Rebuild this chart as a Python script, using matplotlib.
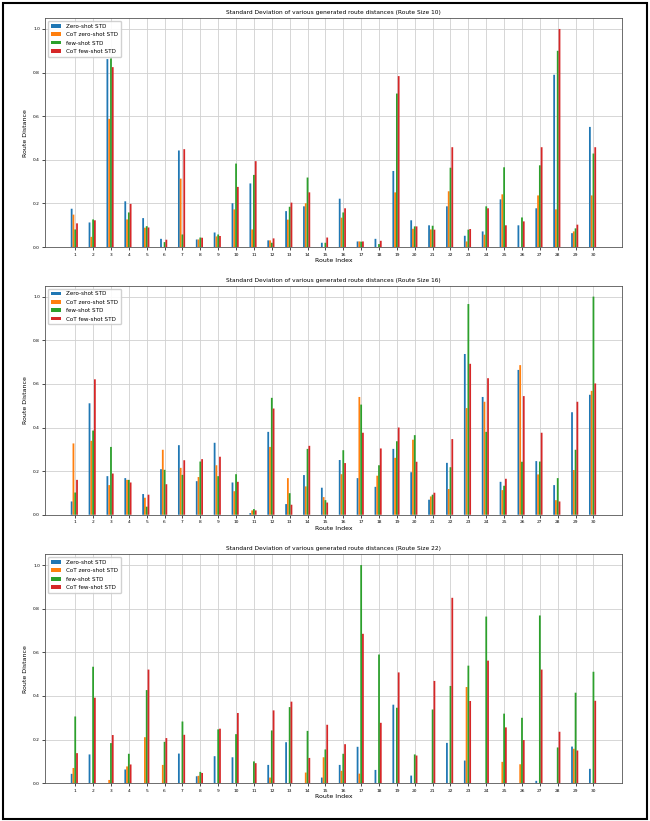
import numpy as np
import matplotlib
matplotlib.use("Agg")
import matplotlib.pyplot as plt
from matplotlib.patches import Rectangle

routes = list(range(1, 31))
series_names = ["Zero-shot STD", "CoT zero-shot STD", "few-shot STD", "CoT few-shot STD"]
colors = ["#1f77b4", "#ff7f0e", "#2ca02c", "#d62728"]
route_sizes = [10, 16, 22]

# route size 10
zs_10 = [0.176, 0.113, 0.862, 0.210, 0.133, 0.038, 0.443, 0.035, 0.067, 0.201,
         0.292, 0.031, 0.165, 0.187, 0.020, 0.222, 0.026, 0.038, 0.349, 0.123,
         0.100, 0.187, 0.052, 0.072, 0.219, 0.100, 0.178, 0.790, 0.064, 0.551]
cotzs_10 = [0.149, 0.047, 0.588, 0.127, 0.089, 0.0, 0.314, 0.035, 0.049, 0.173,
            0.081, 0.031, 0.126, 0.201, 0.0, 0.135, 0.026, 0.0, 0.251, 0.084,
            0.081, 0.256, 0.026, 0.057, 0.242, 0.0, 0.237, 0.173, 0.072, 0.237]
fs_10 = [0.081, 0.127, 0.865, 0.159, 0.096, 0.023, 0.058, 0.044, 0.058, 0.383,
         0.331, 0.020, 0.185, 0.319, 0.020, 0.159, 0.025, 0.014, 0.704, 0.095,
         0.098, 0.364, 0.080, 0.187, 0.366, 0.136, 0.375, 0.900, 0.086, 0.429]
cotfs_10 = [0.109, 0.123, 0.825, 0.198, 0.090, 0.034, 0.449, 0.043, 0.051, 0.276,
            0.394, 0.040, 0.204, 0.251, 0.044, 0.178, 0.026, 0.029, 0.784, 0.095,
            0.080, 0.458, 0.083, 0.178, 0.100, 0.118, 0.458, 1.0, 0.103, 0.458]

# route size 16
zs_16 = [0.061, 0.511, 0.177, 0.168, 0.095, 0.209, 0.319, 0.154, 0.330, 0.148,
         0.008, 0.380, 0.049, 0.182, 0.124, 0.251, 0.168, 0.128, 0.302, 0.195,
         0.069, 0.238, 0.737, 0.540, 0.151, 0.664, 0.246, 0.136, 0.470, 0.550]
cotzs_16 = [0.327, 0.339, 0.136, 0.160, 0.078, 0.298, 0.215, 0.173, 0.227, 0.108,
            0.020, 0.311, 0.168, 0.130, 0.081, 0.186, 0.540, 0.179, 0.261, 0.344,
            0.084, 0.118, 0.489, 0.518, 0.113, 0.686, 0.185, 0.067, 0.205, 0.568]
fs_16 = [0.102, 0.386, 0.311, 0.160, 0.037, 0.206, 0.183, 0.244, 0.177, 0.186,
         0.026, 0.536, 0.099, 0.302, 0.067, 0.296, 0.505, 0.227, 0.337, 0.365,
         0.092, 0.218, 0.966, 0.380, 0.133, 0.243, 0.244, 0.168, 0.298, 1.0]
cotfs_16 = [0.160, 0.621, 0.189, 0.148, 0.092, 0.140, 0.250, 0.255, 0.266, 0.151,
            0.020, 0.487, 0.046, 0.316, 0.056, 0.237, 0.376, 0.304, 0.400, 0.243,
            0.101, 0.347, 0.692, 0.626, 0.165, 0.544, 0.376, 0.061, 0.518, 0.602]

# route size 22
zs_22 = [0.043, 0.132, 0.0, 0.063, 0.0, 0.0, 0.136, 0.032, 0.124, 0.119,
         0.0, 0.084, 0.188, 0.0, 0.026, 0.084, 0.167, 0.061, 0.360, 0.035,
         0.0, 0.185, 0.104, 0.0, 0.0, 0.0, 0.011, 0.0, 0.168, 0.066]
cotzs_22 = [0.070, 0.0, 0.015, 0.077, 0.211, 0.084, 0.0, 0.034, 0.0, 0.0,
            0.0, 0.026, 0.0, 0.049, 0.119, 0.057, 0.044, 0.0, 0.0, 0.0,
            0.0, 0.0, 0.441, 0.0, 0.098, 0.087, 0.0, 0.0, 0.158, 0.0]
fs_22 = [0.306, 0.534, 0.184, 0.135, 0.427, 0.190, 0.283, 0.052, 0.247, 0.225,
         0.100, 0.242, 0.349, 0.240, 0.155, 0.135, 1.0, 0.590, 0.346, 0.132,
         0.338, 0.446, 0.539, 0.764, 0.319, 0.300, 0.769, 0.164, 0.415, 0.511]
cotfs_22 = [0.138, 0.392, 0.221, 0.086, 0.521, 0.207, 0.222, 0.047, 0.250, 0.322,
            0.092, 0.334, 0.374, 0.116, 0.268, 0.179, 0.685, 0.277, 0.508, 0.127,
            0.469, 0.850, 0.377, 0.562, 0.256, 0.198, 0.521, 0.236, 0.150, 0.378]

data = {
    10: [zs_10, cotzs_10, fs_10, cotfs_10],
    16: [zs_16, cotzs_16, fs_16, cotfs_16],
    22: [zs_22, cotzs_22, fs_22, cotfs_22],
}

fig = plt.figure(figsize=(6.5, 8.21), dpi=100)
x = np.array(routes)
width = 0.1
offsets = [-0.2, -0.1, 0.0, 0.1]

bottoms = [0.699, 0.373, 0.046]
for size, b in zip(route_sizes, bottoms):
    ax = fig.add_axes([0.069, b, 0.888, 0.279])
    for vals, name, c, off in zip(data[size], series_names, colors, offsets):
        ax.bar(x + off, vals, width, label=name, color=c, snap=False)
    ax.set_xticks(routes)
    ax.set_xticklabels([str(r) for r in routes], fontsize=3.2)
    ax.tick_params(axis='y', labelsize=3.2, length=2, width=0.5, pad=1.5)
    ax.tick_params(axis='x', length=2, width=0.5, pad=2)
    ax.set_xlim(-0.7, 31.6)
    ax.set_ylim(0, 1.05)
    ax.set_title(f"Standard Deviation of various generated route distances (Route Size {size})",
                 fontsize=4.2, pad=3)
    ax.set_xlabel("Route Index", fontsize=4.5, labelpad=1)
    ax.set_ylabel("Route Distance", fontsize=4.5, labelpad=3.5)
    ax.grid(True, color='#d0d0d0', linewidth=0.6)
    ax.set_axisbelow(True)
    for s in ax.spines.values():
        s.set_linewidth(0.6)
        s.set_color('#555555')
    ax.legend(loc='upper left', fontsize=4.1, handlelength=1.9, handleheight=0.6,
              borderpad=0.5, labelspacing=0.6, handletextpad=0.8, framealpha=0.9)

fig.patches.append(Rectangle((0.004, 0.003), 0.992, 0.993, transform=fig.transFigure,
                             fill=False, edgecolor='black', linewidth=1.5))

fig.savefig("out.png", dpi=100)
